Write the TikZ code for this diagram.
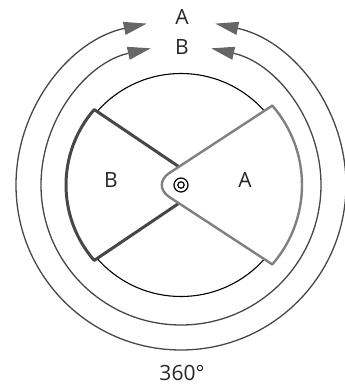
\documentclass[tikz,border=0pt]{standalone}
\usepackage{fontspec}
\setmainfont{Open Sans}
\usetikzlibrary{arrows.meta}

\newcommand{\coordRotor}{
\coordinate (O) at (0,0);
\coordinate (ext) at (270:165);
\coordinate (med) at (270:140);
\coordinate (Aup) at (41:121);
\coordinate (Alow) at (-41:121);
\coordinate (Apex) at (-30,0);
\coordinate (Bup) at (139:115);
\coordinate (Blow) at (221:115);
\coordinate (Bpex) at (25,0);
}
\tikzset{
anillo/.style={black!72,line width=1.3pt},
flecha/.style={anillo,-{Triangle[length=23pt,width=13pt,color=black!60]}},
circulo/.style={black,line width=1.1pt},
sectorA/.style={black!50,line width=2.4pt,line join=round,line cap=round},
sectorB/.style={black!72,line width=3pt,line join=round,fill=white},
eje/.style={black,line width=1.2pt},
etiqueta/.style={font=\fontsize{21}{25}\selectfont,text=black!85,inner sep=0pt}
}

\begin{document}
\begin{tikzpicture}[x=1pt,y=1pt]
    \useasboundingbox (-181,-203) rectangle (164,185);
    \coordRotor

    % anillos
    \draw[flecha] (ext) arc[start angle=270,end angle=102,radius=165];
    \draw[flecha] (ext) arc[start angle=-90,end angle=78,radius=165];
    \draw[flecha] (med) arc[start angle=270,end angle=102.5,radius=140];
    \draw[flecha] (med) arc[start angle=-90,end angle=77.5,radius=140];
    \draw[circulo] (O) circle[radius=111.5];

    % sectores
    \filldraw[sectorB] (Bpex) -- (Bup) arc[start angle=139,end angle=221,radius=115] -- cycle;
    \fill[white] (Aup) -- (Apex) -- (Alow) arc[start angle=-41,end angle=41,radius=121] -- cycle;
    \draw[sectorA] (Alow) arc[start angle=-41,end angle=41,radius=121];
    \draw[sectorA,rounded corners=22pt] (Aup) -- (Apex) -- (Alow);

    \draw[eje] (O) circle[radius=7];
    \draw[eje] (O) circle[radius=3.2];

    \node[etiqueta] (etqA) at (64,5) {A};
    \node[etiqueta] (etqB) at (-70,5) {B};
    \node[etiqueta] (tituloA) at (1,168) {A};
    \node[etiqueta] (tituloB) at (1,138) {B};
    \node[etiqueta] (grados) at (1,-187.5) {360°};
\end{tikzpicture}
\end{document}
